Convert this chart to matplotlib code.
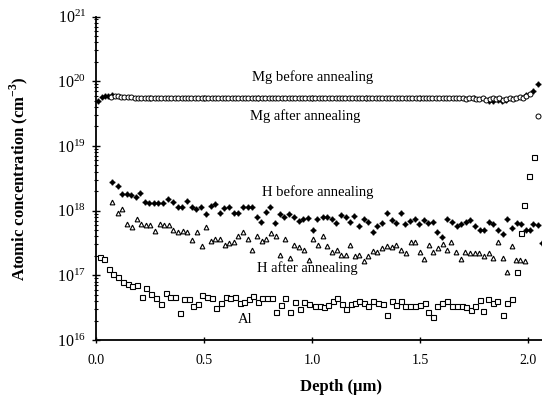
import matplotlib
matplotlib.use("Agg")
import matplotlib.pyplot as plt
from matplotlib.ticker import LogLocator, NullFormatter, FixedLocator

plt.rcParams['font.family'] = ['Liberation Serif', 'DejaVu Serif']
plt.rcParams['mathtext.fontset'] = 'custom'
plt.rcParams['mathtext.rm'] = 'Liberation Serif'
plt.rcParams['mathtext.bf'] = 'Liberation Serif:bold'

# ---- SIMS depth profiles (depth in um, concentration in cm^-3) ----
mg_after_depth = [
    0.070, 0.086, 0.101, 0.117, 0.132, 0.148, 0.163, 0.179, 0.194, 0.210,
    0.225, 0.241, 0.256, 0.272, 0.287, 0.303, 0.318, 0.334, 0.349, 0.365,
    0.380, 0.396, 0.411, 0.427, 0.442, 0.458, 0.473, 0.489, 0.504, 0.520,
    0.535, 0.551, 0.566, 0.582, 0.597, 0.613, 0.628, 0.644, 0.659, 0.675,
    0.690, 0.706, 0.721, 0.737, 0.752, 0.768, 0.783, 0.799, 0.814, 0.830,
    0.845, 0.861, 0.876, 0.892, 0.907, 0.923, 0.938, 0.954, 0.969, 0.985,
    1.000, 1.016, 1.031, 1.047, 1.062, 1.078, 1.093, 1.109, 1.124, 1.140,
    1.155, 1.171, 1.186, 1.202, 1.217, 1.233, 1.248, 1.264, 1.279, 1.295,
    1.310, 1.326, 1.341, 1.357, 1.372, 1.388, 1.403, 1.419, 1.434, 1.450,
    1.465, 1.481, 1.496, 1.512, 1.527, 1.543, 1.558, 1.574, 1.589, 1.605,
    1.620, 1.636, 1.651, 1.667, 1.682, 1.698, 1.713, 1.729, 1.744, 1.760,
    1.775, 1.791, 1.806, 1.822, 1.837, 1.853, 1.868, 1.884, 1.899, 1.915,
    1.930, 1.946, 1.961, 1.977, 1.992, 2.008, 2.047,
]
mg_after_conc = [c * 1e19 for c in [
    5.8, 5.9, 5.9, 5.8, 5.8, 5.7, 5.7, 5.6, 5.6, 5.6,
    5.5, 5.6, 5.6, 5.5, 5.5, 5.6, 5.5, 5.5, 5.6, 5.5,
    5.5, 5.6, 5.5, 5.5, 5.6, 5.5, 5.6, 5.5, 5.5, 5.6,
    5.5, 5.5, 5.6, 5.5, 5.6, 5.5, 5.5, 5.6, 5.5, 5.5,
    5.6, 5.5, 5.5, 5.6, 5.6, 5.5, 5.5, 5.6, 5.5, 5.6,
    5.5, 5.5, 5.6, 5.5, 5.6, 5.5, 5.5, 5.6, 5.5, 5.5,
    5.6, 5.5, 5.5, 5.6, 5.5, 5.6, 5.5, 5.5, 5.6, 5.5,
    5.5, 5.6, 5.5, 5.6, 5.5, 5.5, 5.6, 5.5, 5.5, 5.6,
    5.5, 5.5, 5.6, 5.5, 5.6, 5.5, 5.5, 5.6, 5.5, 5.5,
    5.6, 5.5, 5.5, 5.6, 5.5, 5.5, 5.6, 5.5, 5.5, 5.6,
    5.5, 5.6, 5.5, 5.5, 5.6, 5.5, 5.4, 5.5, 5.6, 5.4,
    5.3, 5.5, 5.2, 5.4, 5.6, 5.3, 5.5, 5.2, 5.4, 5.6,
    5.4, 5.5, 5.7, 5.6, 5.9, 6.3, 2.9,
]]

mg_before_depth = [0.011, 0.026, 0.042, 0.057, 0.073, 0.25, 0.50, 0.75, 1.00,
                   1.25, 1.50, 1.75, 1.820, 1.840, 1.860, 1.880, 1.900,
                   1.990, 2.022, 2.048]
mg_before_conc = [5.0e19, 5.8e19, 5.9e19, 5.9e19, 6.1e19, 5.5e19, 5.5e19,
                  5.5e19, 5.5e19, 5.5e19, 5.5e19, 5.5e19, 5.0e19, 5.0e19,
                  5.1e19, 5.0e19, 5.1e19, 6.2e19, 7.1e19, 8.9e19]

h_before_depth = [
    0.075, 0.100, 0.122, 0.142, 0.162, 0.184, 0.205, 0.227, 0.247, 0.267,
    0.288, 0.309, 0.332, 0.355, 0.378, 0.400, 0.420, 0.443, 0.463, 0.486,
    0.508, 0.531, 0.551, 0.573, 0.594, 0.614, 0.638, 0.659, 0.682, 0.702,
    0.724, 0.744, 0.764, 0.786, 0.807, 0.829, 0.852, 0.872, 0.895, 0.917,
    0.940, 0.960, 0.983, 1.006, 1.025, 1.050, 1.071, 1.091, 1.111, 1.133,
    1.156, 1.176, 1.196, 1.219, 1.241, 1.261, 1.281, 1.302, 1.322, 1.346,
    1.369, 1.389, 1.411, 1.432, 1.454, 1.477, 1.497, 1.519, 1.538, 1.559,
    1.580, 1.602, 1.624, 1.647, 1.670, 1.690, 1.712, 1.731, 1.755, 1.778,
    1.796, 1.818, 1.839, 1.860, 1.883, 1.904, 1.925, 1.948, 1.968, 1.991,
    2.009, 2.025, 2.048, 2.063,
]
h_before_conc = [
    2.74e18, 2.40e18, 1.81e18, 1.81e18, 1.74e18, 1.64e18, 1.85e18, 1.37e18, 1.30e18, 1.30e18,
    1.30e18, 1.30e18, 1.51e18, 1.34e18, 1.12e18, 1.12e18, 1.42e18, 1.12e18, 1.05e18, 1.12e18,
    8.9e17, 1.18e18, 1.26e18, 9.3e17, 1.09e18, 1.12e18, 9.1e17, 9.1e17, 1.12e18, 1.12e18,
    1.12e18, 8.1e17, 6.6e17, 9.4e17, 1.15e18, 6.5e17, 8.9e17, 7.9e17, 8.9e17, 8.1e17,
    7.0e17, 7.3e17, 7.6e17, 5.0e17, 7.3e17, 7.9e17, 7.9e17, 7.3e17, 6.5e17, 8.5e17,
    7.9e17, 6.7e17, 8.3e17, 5.8e17, 7.3e17, 6.7e17, 4.7e17, 5.8e17, 6.4e17, 9.1e17,
    7.2e17, 6.4e17, 9.1e17, 6.2e17, 7.0e17, 7.3e17, 6.2e17, 7.2e17, 6.4e17, 6.7e17,
    4.7e17, 3.9e17, 7.3e17, 6.7e17, 5.8e17, 6.2e17, 6.7e17, 7.2e17, 5.8e17, 5.0e17,
    5.1e17, 6.7e17, 6.2e17, 5.1e17, 4.3e17, 7.3e17, 5.3e17, 6.5e17, 6.2e17, 5.0e17,
    5.1e17, 6.2e17, 6.0e17, 3.2e17,
]

h_after_depth = [
    0.075, 0.100, 0.122, 0.145, 0.167, 0.188, 0.208, 0.230, 0.251, 0.273,
    0.295, 0.316, 0.338, 0.358, 0.380, 0.401, 0.421, 0.446, 0.468, 0.489,
    0.509, 0.531, 0.552, 0.574, 0.597, 0.617, 0.639, 0.659, 0.679, 0.702,
    0.724, 0.745, 0.767, 0.787, 0.809, 0.832, 0.853, 0.876, 0.898, 0.918,
    0.940, 0.964, 0.986, 1.003, 1.028, 1.050, 1.071, 1.093, 1.114, 1.134,
    1.156, 1.176, 1.198, 1.219, 1.241, 1.261, 1.281, 1.302, 1.323, 1.346,
    1.369, 1.389, 1.411, 1.435, 1.457, 1.478, 1.500, 1.520, 1.542, 1.562,
    1.583, 1.605, 1.625, 1.645, 1.667, 1.688, 1.710, 1.731, 1.753, 1.775,
    1.796, 1.818, 1.839, 1.862, 1.886, 1.902, 1.925, 1.944, 1.963, 1.986,
]
h_after_conc = [
    1.37e18, 9.3e17, 1.05e18, 6.2e17, 5.6e17, 7.3e17, 6.2e17, 6.0e17, 6.0e17, 4.9e17,
    6.2e17, 6.0e17, 6.0e17, 5.1e17, 4.7e17, 4.9e17, 4.7e17, 3.5e17, 4.7e17, 2.84e17,
    5.5e17, 3.4e17, 3.7e17, 3.6e17, 2.94e17, 3.2e17, 3.3e17, 4.0e17, 4.7e17, 3.7e17,
    2.5e17, 4.1e17, 3.4e17, 3.7e17, 4.5e17, 4.0e17, 2.06e17, 3.6e17, 1.83e17, 2.94e17,
    2.77e17, 2.46e17, 1.72e17, 3.7e17, 2.94e17, 4.0e17, 2.84e17, 2.32e17, 2.46e17, 2.06e17,
    2.06e17, 2.94e17, 1.99e17, 2.06e17, 1.68e17, 1.99e17, 2.40e17, 2.32e17, 2.61e17, 2.84e17,
    2.71e17, 2.94e17, 2.46e17, 2.23e17, 3.3e17, 3.3e17, 2.32e17, 1.77e17, 2.94e17, 2.32e17,
    2.61e17, 3.05e17, 2.46e17, 3.3e17, 2.32e17, 1.77e17, 2.32e17, 2.23e17, 2.23e17, 2.23e17,
    1.99e17, 2.23e17, 1.83e17, 3.3e17, 1.83e17, 1.14e17, 2.84e17, 1.72e17, 1.72e17, 1.68e17,
]

al_depth = [
    0.019, 0.038, 0.060, 0.080, 0.103, 0.126, 0.147, 0.168, 0.190, 0.212,
    0.233, 0.255, 0.278, 0.301, 0.323, 0.344, 0.366, 0.388, 0.409, 0.431,
    0.450, 0.472, 0.492, 0.514, 0.536, 0.557, 0.579, 0.600, 0.622, 0.644,
    0.665, 0.687, 0.708, 0.728, 0.750, 0.770, 0.792, 0.813, 0.835, 0.855,
    0.876, 0.898, 0.921, 0.943, 0.964, 0.986, 1.014, 1.037, 1.056, 1.075,
    1.096, 1.117, 1.138, 1.157, 1.179, 1.199, 1.219, 1.241, 1.261, 1.281,
    1.304, 1.327, 1.349, 1.369, 1.389, 1.411, 1.431, 1.454, 1.477, 1.500,
    1.523, 1.538, 1.559, 1.580, 1.602, 1.624, 1.647, 1.670, 1.693, 1.713,
    1.735, 1.755, 1.778, 1.793, 1.816, 1.839, 1.858, 1.886, 1.904, 1.925,
    1.948, 1.966, 1.982, 2.006, 2.028,
]
al_conc = [
    1.90e17, 1.77e17, 1.24e17, 1.05e17, 9.3e16, 8.0e16, 7.3e16, 6.8e16, 7.1e16, 4.7e16,
    6.3e16, 5.1e16, 4.4e16, 3.6e16, 5.3e16, 4.6e16, 4.6e16, 2.64e16, 4.3e16, 4.3e16,
    3.4e16, 3.6e16, 5.0e16, 4.7e16, 4.4e16, 3.1e16, 3.8e16, 4.6e16, 4.4e16, 4.7e16,
    3.8e16, 3.9e16, 4.3e16, 4.8e16, 3.9e16, 4.4e16, 4.4e16, 4.4e16, 2.74e16, 3.5e16,
    4.4e16, 2.74e16, 3.9e16, 3.0e16, 3.9e16, 3.6e16, 3.3e16, 3.3e16, 3.2e16, 3.5e16,
    4.0e16, 4.4e16, 3.6e16, 3.0e16, 3.6e16, 3.8e16, 4.0e16, 3.7e16, 3.3e16, 4.0e16,
    3.8e16, 3.6e16, 2.43e16, 4.0e16, 3.5e16, 4.0e16, 3.3e16, 3.3e16, 3.3e16, 3.5e16,
    3.7e16, 2.74e16, 2.29e16, 3.4e16, 3.8e16, 4.0e16, 3.4e16, 3.4e16, 3.4e16, 3.2e16,
    2.91e16, 3.4e16, 4.1e16, 2.84e16, 4.3e16, 3.8e16, 4.0e16, 2.43e16, 3.8e16, 4.3e16,
    1.14e17, 4.5e17, 1.22e18, 3.4e18, 6.8e18,
]

# ---- annotations: (text, depth, concentration) ----
labels = [
    ("Mg before annealing", 0.722, 1.16e20),
    ("Mg after annealing", 0.713, 2.9e19),
    ("H before annealing", 0.769, 1.94e18),
    ("H after annealing", 0.745, 1.30e17),
    ("Al", 0.657, 2.04e16),
]

x_ticks = [0.0, 0.5, 1.0, 1.5, 2.0]
x_tick_labels = ["0.0", "0.5", "1.0", "1.5", "2.0"]

fig = plt.figure(figsize=(5.42, 3.98), dpi=100)
ax = fig.add_axes([0.1771, 0.1457, 0.8229, 0.8128])

star4 = (4, 1, 0)
ax.plot(mg_before_depth, mg_before_conc, linestyle='none', marker=star4,
        markersize=3.8, color='black', zorder=2)
ax.plot(mg_after_depth, mg_after_conc, linestyle='none', marker='o',
        markersize=3.6, markerfacecolor='white', markeredgecolor='black',
        markeredgewidth=0.7, zorder=3)
ax.plot(h_before_depth, h_before_conc, linestyle='none', marker=star4,
        markersize=3.8, color='black', zorder=3)
ax.plot(h_after_depth, h_after_conc, linestyle='none', marker='^',
        markersize=3.4, markerfacecolor='white', markeredgecolor='black',
        markeredgewidth=0.8, zorder=3)
ax.plot(al_depth, al_conc, linestyle='none', marker='s',
        markersize=3.6, markerfacecolor='white', markeredgecolor='black',
        markeredgewidth=0.8, zorder=3)

for text, xd, yd in labels:
    ax.text(xd, yd, text, fontsize=10.5, ha='left', va='center')

ax.set_yscale('log')
ax.set_ylim(1e16, 1e21)
ax.set_xlim(0, 2.065)

ax.yaxis.set_major_locator(LogLocator(base=10, numticks=10))
ax.yaxis.set_minor_locator(LogLocator(base=10, subs=range(2, 10), numticks=20))
ax.yaxis.set_minor_formatter(NullFormatter())
ax.xaxis.set_major_locator(FixedLocator(x_ticks))
ax.set_xticklabels(x_tick_labels)

for side in ('top', 'right'):
    ax.spines[side].set_visible(False)
for side in ('left', 'bottom'):
    ax.spines[side].set_linewidth(1.3)

ax.tick_params(axis='y', which='major', direction='inout', length=6, width=1.0,
               labelsize=11.5, pad=4)
ax.tick_params(axis='y', which='minor', direction='inout', length=3, width=0.8)
ax.tick_params(axis='x', which='major', direction='inout', length=4, width=1.0,
               labelsize=10, pad=8)

ax.set_xlabel("Depth (\u03bcm)", fontsize=12, fontweight='bold')
ax.set_ylabel("Atomic concentration (cm$^{\\mathbf{-3}}$)", fontsize=12,
              fontweight='bold')
ax.xaxis.set_label_coords(0.549, -0.12)
ax.yaxis.set_label_coords(-0.148, 0.5)

fig.savefig("out.png", dpi=100)
